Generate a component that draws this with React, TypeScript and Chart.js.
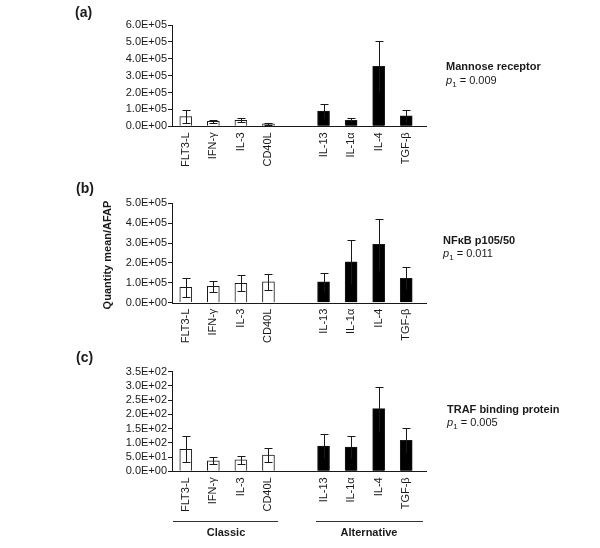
import React, { useEffect, useRef } from 'react';
import { Chart, registerables } from 'chart.js';
Chart.register(...registerables);

const categories = ['FLT3-L', 'IFN-γ', 'IL-3', 'CD40L', '', 'IL-13', 'IL-1α', 'IL-4', 'TGF-β'];
const isAlternative = [false, false, false, false, false, true, true, true, true];

const mannoseMeans = [57000, 29000, 36000, 15000, null, 90000, 36000, 355000, 62000];
const mannoseErrors = [39000, 10000, 12000, 7000, null, 40000, 11000, 148000, 36000];

const nfkbMeans = [77000, 82000, 98000, 105000, null, 105000, 205000, 293000, 123000];
const nfkbErrors = [48000, 28000, 40000, 40000, null, 45000, 112000, 127000, 55000];

const trafMeans = [77, 37, 40, 57, null, 89, 85, 220, 109];
const trafErrors = [46, 12, 15, 24, null, 43, 39, 77, 43];

const FONT = '"Liberation Sans", Arial, Helvetica, sans-serif';
const INK = '#1a1a1a';

function fmtExp(v: number): string {
  const [m, e] = v.toExponential(1).split('e');
  const sign = e[0];
  const digits = e.slice(1).padStart(2, '0');
  return m + 'E' + sign + digits;
}

const errorBarPlugin = {
  id: 'errorBars',
  afterDatasetsDraw(chart: any, _args: any, opts: any) {
    const { ctx } = chart;
    const meta = chart.getDatasetMeta(0);
    const ys = chart.scales.y;
    const means = opts.means as (number | null)[];
    const errs = opts.errors as (number | null)[];
    ctx.save();
    ctx.strokeStyle = INK;
    ctx.lineWidth = 1;
    meta.data.forEach((el: any, i: number) => {
      const m = means[i];
      const e = errs[i];
      if (m == null || e == null) return;
      const x = Math.round(el.x) + 0.5;
      const yt = Math.round(ys.getPixelForValue(m + e)) + 0.5;
      const yb = Math.round(ys.getPixelForValue(Math.max(m - e, 0))) + 0.5;
      ctx.beginPath();
      ctx.moveTo(x, yb);
      ctx.lineTo(x, yt);
      ctx.moveTo(x - 4, yt);
      ctx.lineTo(x + 4, yt);
      if (!isAlternative[i]) {
        ctx.moveTo(x - 4, yb);
        ctx.lineTo(x + 4, yb);
      }
      ctx.stroke();
    });
    // x axis line, extended a little beyond the last bar slot
    const area = chart.chartArea;
    const yb = Math.round(area.bottom) + 0.5;
    ctx.beginPath();
    ctx.moveTo(area.left, yb);
    ctx.lineTo(427, yb);
    ctx.stroke();
    ctx.restore();
  },
};

type PanelProps = {
  top: number;
  height: number;
  areaTop: number;
  areaBottom: number;
  means: (number | null)[];
  errors: (number | null)[];
  yMax: number;
  yStep: number;
};

function Panel({ top, height, areaTop, areaBottom, means, errors, yMax, yStep }: PanelProps) {
  const ref = useRef<HTMLCanvasElement>(null);
  useEffect(() => {
    const chart = new Chart(ref.current as HTMLCanvasElement, {
      type: 'bar',
      data: {
        labels: categories,
        datasets: [
          {
            data: means as any,
            backgroundColor: isAlternative.map((a) => (a ? '#000000' : '#ffffff')),
            borderColor: INK,
            borderWidth: 1,
            barThickness: 12,
          },
        ],
      },
      options: {
        animation: false,
        responsive: false,
        devicePixelRatio: 1,
        layout: { padding: { top: areaTop, left: 0, right: 600 - 420, bottom: 0 } },
        plugins: {
          legend: { display: false },
          tooltip: { enabled: false },
          errorBars: { means, errors },
        } as any,
        scales: {
          x: {
            type: 'category',
            offset: true,
            grid: { display: false, drawTicks: false },
            border: { display: false },
            ticks: {
              autoSkip: false,
              minRotation: 90,
              maxRotation: 90,
              padding: 6,
              color: INK,
              font: { family: FONT, size: 11 },
            },
            afterFit: (s: any) => {
              s.height = height - areaBottom;
            },
          },
          y: {
            min: 0,
            max: yMax,
            grid: { drawOnChartArea: false, drawTicks: true, tickLength: 4, color: INK },
            border: { display: true, color: INK },
            ticks: {
              stepSize: yStep,
              autoSkip: false,
              padding: 1,
              color: INK,
              font: { family: FONT, size: 11 },
              callback: (v: any) => fmtExp(Number(v)),
            },
            afterFit: (s: any) => {
              s.width = 172;
            },
          },
        },
      },
      plugins: [errorBarPlugin],
    } as any);
    return () => chart.destroy();
  }, []);
  return (
    <canvas
      ref={ref}
      width={600}
      height={height}
      style={{ position: 'absolute', left: 0, top, width: 600, height }}
    />
  );
}

const txt = (extra: React.CSSProperties): React.CSSProperties => ({
  position: 'absolute',
  fontFamily: FONT,
  color: INK,
  whiteSpace: 'nowrap',
  lineHeight: 1,
  transform: 'translateY(-50%)',
  ...extra,
});

function PValue({ left, y, value }: { left: number; y: number; value: string }) {
  return (
    <div style={txt({ left, top: y, fontSize: 11 })}>
      <i>p</i>
      <sub style={{ fontSize: 8, verticalAlign: 'baseline', position: 'relative', top: 3 }}>1</sub> = {value}
    </div>
  );
}

export default function App() {
  return (
    <div style={{ position: 'absolute', left: 0, top: 0, width: 600, height: 548, background: '#fff', overflow: 'hidden' }}>
      <Panel top={0} height={180} areaTop={25} areaBottom={126.3} means={mannoseMeans} errors={mannoseErrors} yMax={600000} yStep={100000} />
      <Panel top={170} height={180} areaTop={33.3} areaBottom={132.7} means={nfkbMeans} errors={nfkbErrors} yMax={500000} yStep={100000} />
      <Panel top={340} height={180} areaTop={31.7} areaBottom={131.3} means={trafMeans} errors={trafErrors} yMax={350} yStep={50} />

      <div style={txt({ left: 75, top: 12, fontSize: 14, fontWeight: 'bold' })}>(a)</div>
      <div style={txt({ left: 76, top: 188, fontSize: 14, fontWeight: 'bold' })}>(b)</div>
      <div style={txt({ left: 76, top: 357, fontSize: 14, fontWeight: 'bold' })}>(c)</div>

      <div style={txt({ left: 446, top: 66, fontSize: 11, fontWeight: 'bold' })}>Mannose receptor</div>
      <PValue left={446} y={79.5} value="0.009" />
      <div style={txt({ left: 443, top: 240, fontSize: 11, fontWeight: 'bold' })}>NFκB p105/50</div>
      <PValue left={443} y={253} value="0.011" />
      <div style={txt({ left: 447, top: 408.5, fontSize: 11, fontWeight: 'bold' })}>TRAF binding protein</div>
      <PValue left={447} y={422} value="0.005" />

      <div
        style={{
          position: 'absolute',
          left: 106.5,
          top: 255,
          fontFamily: FONT,
          fontSize: 11,
          fontWeight: 'bold',
          color: INK,
          whiteSpace: 'nowrap',
          lineHeight: 1,
          transform: 'translate(-50%, -50%) rotate(-90deg)',
        }}
      >
        Quantity mean/AFAP
      </div>

      <div style={{ position: 'absolute', left: 173, top: 521, width: 105, height: 1, background: '#333' }} />
      <div style={{ position: 'absolute', left: 316, top: 521, width: 107, height: 1, background: '#333' }} />
      <div style={txt({ left: 226, top: 531.5, fontSize: 11, fontWeight: 'bold', transform: 'translate(-50%, -50%)' })}>Classic</div>
      <div style={txt({ left: 369, top: 531.5, fontSize: 11, fontWeight: 'bold', transform: 'translate(-50%, -50%)' })}>Alternative</div>
    </div>
  );
}
